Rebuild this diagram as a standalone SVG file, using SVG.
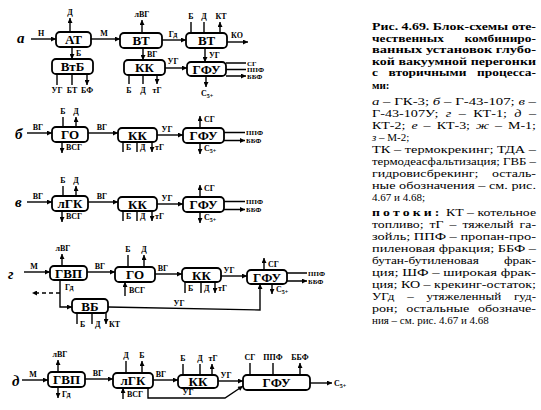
<svg xmlns="http://www.w3.org/2000/svg" width="541" height="410" viewBox="0 0 541 410">
<style>
.box{fill:#fff;stroke:#000;stroke-width:1.8}
.ln{stroke:#000;stroke-width:1.4;fill:none}
.a{marker-end:url(#ah)}
.dash{stroke-dasharray:4 3}
.bt{font-family:"Liberation Serif",serif;font-weight:bold;font-size:13px;text-anchor:middle}
.s{font-family:"Liberation Serif",serif;font-weight:bold;font-size:8px}
.o{font-size:7px}
.m{text-anchor:middle}
.sub{font-size:6px}
.lt{font-family:"Liberation Serif",serif;font-weight:bold;font-style:italic;font-size:15px}
.tx{font-family:"Liberation Serif",serif;font-size:11px}
.tb{font-weight:bold}
.it{font-style:italic}
</style>
<defs>
<marker id="ah" viewBox="0 0 10 10" refX="10" refY="5" markerWidth="6" markerHeight="5" orient="auto" markerUnits="userSpaceOnUse"><path d="M0,0 L10,5 L0,10 z"/></marker>
</defs>
<rect width="541" height="410" fill="#fff"/>

<!-- Row a -->
<text class="lt" x="17" y="43">а</text>
<g id="a-AT"><rect class="box" x="56" y="32" width="35" height="15" rx="4"/><text class="bt" x="73.5" y="44">АТ</text></g>
<g id="a-VtB"><rect class="box" x="52" y="59" width="41" height="15" rx="4"/><text class="bt" x="72.5" y="71">ВтБ</text></g>
<g id="a-VT1"><rect class="box" x="120" y="33" width="42" height="15" rx="4"/><text class="bt" x="141" y="45">ВТ</text></g>
<g id="a-KK"><rect class="box" x="124" y="60" width="41" height="15" rx="4"/><text class="bt" x="144.5" y="72">КК</text></g>
<g id="a-VT2"><rect class="box" x="186" y="33" width="41" height="15" rx="4"/><text class="bt" x="206.5" y="45">ВТ</text></g>
<g id="a-GFU"><rect class="box" x="187" y="62" width="39" height="14" rx="4"/><text class="bt" x="206.5" y="73.5">ГФУ</text></g>
<g id="a-conn">
<path class="ln a" d="M31,39H56"/><text class="s m" x="41" y="36">Н</text>
<path class="ln a" d="M70,32V18"/><text class="s m" x="70" y="15">Д</text>
<path class="ln a" d="M72,47V59"/><text class="s" x="76" y="56">Б</text>
<path class="ln a" d="M57,74V85M72,74V85M87,74V85"/>
<text class="s m" x="57" y="93">УГ</text><text class="s m" x="72" y="93">БТ</text><text class="s m" x="87" y="93">БФ</text>
<path class="ln a" d="M91,39H120"/><text class="s m" x="104" y="36">М</text>
<path class="ln a" d="M142,33V20"/><text class="s m" x="142" y="17">лВГ</text>
<path class="ln a" d="M143,48V60"/><text class="s" x="147" y="57">ВГ</text>
<path class="ln a" d="M129,75V84M143,75V84M157,75V84"/>
<text class="s m" x="129" y="93">Б</text><text class="s m" x="143" y="93">Д</text><text class="s m" x="157" y="93">тГ</text>
<path class="ln a" d="M162,40H186"/><text class="s m" x="173" y="37">Гд</text>
<path class="ln a" d="M191,33V22M204,33V22M220,33V22"/>
<text class="s m" x="191" y="19">Б</text><text class="s m" x="204" y="19">Д</text><text class="s m" x="221" y="19">КТ</text>
<path class="ln a" d="M227,42H248"/><text class="s m" x="237" y="38">КО</text>
<path class="ln a" d="M205,48V62"/><text class="s" x="209" y="58">УГ</text>
<path class="ln a" d="M165,68H187"/><text class="s m" x="173" y="64">УГ</text>
<path class="ln a" d="M226,63H246M226,69.5H246M226,76H246"/>
<text class="s o" x="247" y="65.5">СГ</text><text class="s o" x="247" y="72">ППФ</text><text class="s o" x="247" y="78.5">ББФ</text>
<path class="ln a" d="M206,76V87"/><text class="s m" x="207" y="96">С<tspan class="sub" dy="2">5+</tspan></text>
</g>

<!-- Row б -->
<text class="lt" x="15" y="139">б</text>
<g id="b-GO"><rect class="box" x="52" y="127" width="36" height="15" rx="4"/><text class="bt" x="70" y="139">ГО</text></g>
<g id="b-KK"><rect class="box" x="118" y="128" width="39" height="14" rx="4"/><text class="bt" x="137.5" y="139.5">КК</text></g>
<g id="b-GFU"><rect class="box" x="183" y="128" width="41" height="15" rx="4"/><text class="bt" x="203.5" y="140">ГФУ</text></g>
<g id="b-conn">
<path class="ln a" d="M27,133H52"/><text class="s m" x="38" y="130">ВГ</text>
<path class="ln a" d="M63,127V117M76,127V117"/><text class="s m" x="63" y="114">Б</text><text class="s m" x="76" y="114">Д</text>
<path class="ln a" d="M62,142V153"/><text class="s" x="66" y="150">ВСГ</text>
<path class="ln a" d="M88,133H118"/><text class="s m" x="102" y="130">ВГ</text>
<path class="ln a" d="M123,142V152M137,142V152M152,142V152"/>
<text class="s" x="126" y="150">Б</text><text class="s" x="140" y="150">Д</text><text class="s" x="155" y="150">тГ</text>
<path class="ln a" d="M157,135H183"/><text class="s m" x="167" y="132">УГ</text>
<path class="ln a" d="M200,128V116"/><text class="s" x="204" y="122">СГ</text>
<path class="ln a" d="M224,132.5H245M224,140.5H245"/>
<text class="s o" x="246" y="135">ППФ</text><text class="s o" x="246" y="143">ББФ</text>
<path class="ln a" d="M200,143V154"/><text class="s" x="204" y="151">С<tspan class="sub" dy="2">5+</tspan></text>
</g>

<!-- Row в -->
<text class="lt" x="15" y="207">в</text>
<g id="v-lGK"><rect class="box" x="52" y="196" width="36" height="15" rx="4"/><text class="bt" x="70" y="208">лГК</text></g>
<g id="v-KK"><rect class="box" x="118" y="197" width="39" height="14" rx="4"/><text class="bt" x="137.5" y="208.5">КК</text></g>
<g id="v-GFU"><rect class="box" x="183" y="197" width="41" height="15" rx="4"/><text class="bt" x="203.5" y="209">ГФУ</text></g>
<g id="v-conn">
<path class="ln a" d="M27,202H52"/><text class="s m" x="38" y="199">ВГ</text>
<path class="ln a" d="M63,196V186M76,196V186"/><text class="s m" x="63" y="183">Б</text><text class="s m" x="76" y="183">Д</text>
<path class="ln a" d="M62,211V222"/><text class="s" x="66" y="219">ВСГ</text>
<path class="ln a" d="M88,202H118"/><text class="s m" x="102" y="199">ВГ</text>
<path class="ln a" d="M123,211V221M137,211V221M152,211V221"/>
<text class="s" x="126" y="219">Б</text><text class="s" x="140" y="219">Д</text><text class="s" x="155" y="219">тГ</text>
<path class="ln a" d="M157,204H183"/><text class="s m" x="167" y="201">УГ</text>
<path class="ln a" d="M200,197V185"/><text class="s" x="204" y="191">СГ</text>
<path class="ln a" d="M224,201.5H245M224,209.5H245"/>
<text class="s o" x="246" y="204">ППФ</text><text class="s o" x="246" y="212">ББФ</text>
<path class="ln a" d="M200,212V223"/><text class="s" x="204" y="220">С<tspan class="sub" dy="2">5+</tspan></text>
</g>

<!-- Row г -->
<text class="lt" x="8" y="279">г</text>
<g id="g-GVP"><rect class="box" x="50" y="266" width="37" height="14" rx="4"/><text class="bt" x="68.5" y="277.5">ГВП</text></g>
<g id="g-GO"><rect class="box" x="115" y="267" width="40" height="15" rx="4"/><text class="bt" x="135" y="279">ГО</text></g>
<g id="g-KK"><rect class="box" x="182" y="268" width="39" height="14" rx="4"/><text class="bt" x="201.5" y="279.5">КК</text></g>
<g id="g-GFU"><rect class="box" x="247" y="270" width="40" height="14" rx="4"/><text class="bt" x="267" y="281.5">ГФУ</text></g>
<g id="g-VB"><rect class="box" x="72" y="299" width="36" height="14" rx="4"/><text class="bt" x="90" y="310.5">ВБ</text></g>
<g id="g-conn">
<path class="ln a" d="M24,272H50"/><text class="s m" x="34" y="269">М</text>
<path class="ln a" d="M62,266V254"/><text class="s m" x="63" y="251">лВГ</text>
<path class="ln a" d="M87,272H115"/><text class="s m" x="100" y="269">ВГ</text>
<path class="ln a" d="M128,267V255M144,267V255"/><text class="s m" x="128" y="252">Б</text><text class="s m" x="144" y="252">Д</text>
<path class="ln a" d="M125,296V282"/><text class="s" x="129" y="293">ВСГ</text>
<path class="ln a" d="M155,274H182"/><text class="s m" x="163" y="271">ВГ</text>
<path class="ln a" d="M185,282V293M201,282V293M215,282V293"/>
<text class="s" x="188" y="291">Б</text><text class="s" x="204" y="291">Д</text><text class="s" x="218" y="291">тГ</text>
<path class="ln a" d="M221,276H247"/><text class="s m" x="229" y="273">УГ</text>
<path class="ln a" d="M264,270V258"/><text class="s" x="268" y="267">СГ</text>
<path class="ln a" d="M287,273H307M287,281H307"/>
<text class="s o" x="308" y="275.5">ППФ</text><text class="s o" x="308" y="283.5">ББФ</text>
<path class="ln a" d="M272,284V294"/><text class="s" x="276" y="292">С<tspan class="sub" dy="2">5+</tspan></text>
<text class="s" x="65" y="290">Гд</text>
<path class="ln a" d="M60,280V307H72"/>
<path class="ln a dash" d="M60,293H32"/>
<path class="ln a" d="M77,313V324M92,313V324M106,313V324"/>
<text class="s" x="80" y="327">Б</text><text class="s" x="95" y="327">Д</text><text class="s" x="109" y="327">КТ</text>
<path class="ln a" d="M108,307L260,310V284"/><text class="s m" x="179" y="306">УГ</text>
</g>

<!-- Row д -->
<text class="lt" x="12" y="386">д</text>
<g id="d-GVP"><rect class="box" x="48" y="372" width="37" height="15" rx="4"/><text class="bt" x="66.5" y="384">ГВП</text></g>
<g id="d-lGK"><rect class="box" x="113" y="373" width="40" height="15" rx="4"/><text class="bt" x="133" y="385">лГК</text></g>
<g id="d-KK"><rect class="box" x="178" y="375" width="40" height="13" rx="4"/><text class="bt" x="198" y="386">КК</text></g>
<g id="d-GFU"><rect class="box" x="243" y="375" width="67" height="15" rx="4"/><text class="bt" x="276.5" y="387">ГФУ</text></g>
<g id="d-conn">
<path class="ln a" d="M22,380H48"/><text class="s m" x="33" y="377">М</text>
<path class="ln a" d="M58,372V360"/><text class="s m" x="60" y="357">лВГ</text>
<path class="ln a" d="M58,387V398"/><text class="s" x="62" y="397">Гд</text>
<path class="ln a" d="M85,379H113"/><text class="s m" x="98" y="376">ВГ</text>
<path class="ln a" d="M126,373V361M142,373V361"/><text class="s m" x="126" y="358">Д</text><text class="s m" x="142" y="358">Б</text>
<path class="ln a" d="M123,399V388"/><text class="s" x="127" y="397">ВСГ</text>
<path class="ln a" d="M153,380H178"/><text class="s m" x="161" y="377">ВГ</text>
<path class="ln a" d="M148,388V398H225L243,386"/><text class="s m" x="188" y="395">УГ</text>
<path class="ln a" d="M183,375V364M200,375V364M212,375V364"/>
<text class="s m" x="183" y="361">Б</text><text class="s m" x="200" y="361">Д</text><text class="s m" x="213" y="361">тГ</text>
<path class="ln a" d="M218,381H243"/><text class="s m" x="226" y="378">УГ</text>
<path class="ln a" d="M250,375V363M273,375V363M300,375V363"/>
<text class="s m" x="250" y="360">СГ</text><text class="s m" x="273" y="360">ППФ</text><text class="s m" x="300" y="360">ББФ</text>
<path class="ln a" d="M310,383H332"/><text class="s" x="334" y="386">С<tspan class="sub" dy="2">5+</tspan></text>
</g>

<!-- Caption text -->
<g class="tx">
<text class="tb" x="372" y="30" textLength="164" lengthAdjust="spacingAndGlyphs">Рис. 4.69. Блок-схемы оте-</text>
<text class="tb" x="372" y="42" textLength="164" lengthAdjust="spacingAndGlyphs" word-spacing="14">чественных комбиниро-</text>
<text class="tb" x="372" y="53" textLength="164" lengthAdjust="spacingAndGlyphs">ванных установок глубо-</text>
<text class="tb" x="372" y="65" textLength="164" lengthAdjust="spacingAndGlyphs">кой вакуумной перегонки</text>
<text class="tb" x="372" y="76" textLength="164" lengthAdjust="spacingAndGlyphs" word-spacing="6">с вторичными процесса-</text>
<text class="tb" x="372" y="89">ми:</text>
<text x="372" y="105" textLength="164" lengthAdjust="spacingAndGlyphs"><tspan class="it">а</tspan> – ГК-3; <tspan class="it">б</tspan> – Г-43-107; <tspan class="it">в</tspan> –</text>
<text x="372" y="117" textLength="164" lengthAdjust="spacingAndGlyphs" word-spacing="3">Г-43-107У; <tspan class="it">г</tspan> – КТ-1; <tspan class="it">д</tspan> –</text>
<text x="372" y="129" textLength="164" lengthAdjust="spacingAndGlyphs" word-spacing="2">КТ-2; <tspan class="it">е</tspan> – КТ-3; <tspan class="it">ж</tspan> – М-1;</text>
<text x="372" y="141"><tspan class="it">з</tspan> – М-2;</text>
<text x="372" y="153" textLength="164" lengthAdjust="spacingAndGlyphs">ТК – термокрекинг; ТДА –</text>
<text x="372" y="165" textLength="164" lengthAdjust="spacingAndGlyphs">термодеасфальтизация; ГВБ –</text>
<text x="372" y="177" textLength="164" lengthAdjust="spacingAndGlyphs" word-spacing="8">гидровисбрекинг; осталь-</text>
<text x="372" y="189" textLength="164" lengthAdjust="spacingAndGlyphs">ные обозначения – см. рис.</text>
<text x="372" y="201">4.67 и 4.68;</text>
<text x="372" y="216" textLength="164" lengthAdjust="spacingAndGlyphs"><tspan class="tb" letter-spacing="2.5">потоки:</tspan> КТ – котельное</text>
<text x="372" y="228" textLength="164" lengthAdjust="spacingAndGlyphs" word-spacing="2">топливо; тГ – тяжелый га-</text>
<text x="372" y="240" textLength="164" lengthAdjust="spacingAndGlyphs">зойль; ППФ – пропан-про-</text>
<text x="372" y="252" textLength="164" lengthAdjust="spacingAndGlyphs">пиленовая фракция; ББФ –</text>
<text x="372" y="264" textLength="164" lengthAdjust="spacingAndGlyphs" word-spacing="18">бутан-бутиленовая фрак-</text>
<text x="372" y="276" textLength="164" lengthAdjust="spacingAndGlyphs">ция; ШФ – широкая фрак-</text>
<text x="372" y="288" textLength="164" lengthAdjust="spacingAndGlyphs">ция; КО – крекинг-остаток;</text>
<text x="372" y="300" textLength="164" lengthAdjust="spacingAndGlyphs" word-spacing="8">УГд – утяжеленный гуд-</text>
<text x="372" y="312" textLength="164" lengthAdjust="spacingAndGlyphs" word-spacing="4">рон; остальные обозначе-</text>
<text x="372" y="324">ния – см. рис. 4.67 и 4.68</text>
</g>
</svg>
